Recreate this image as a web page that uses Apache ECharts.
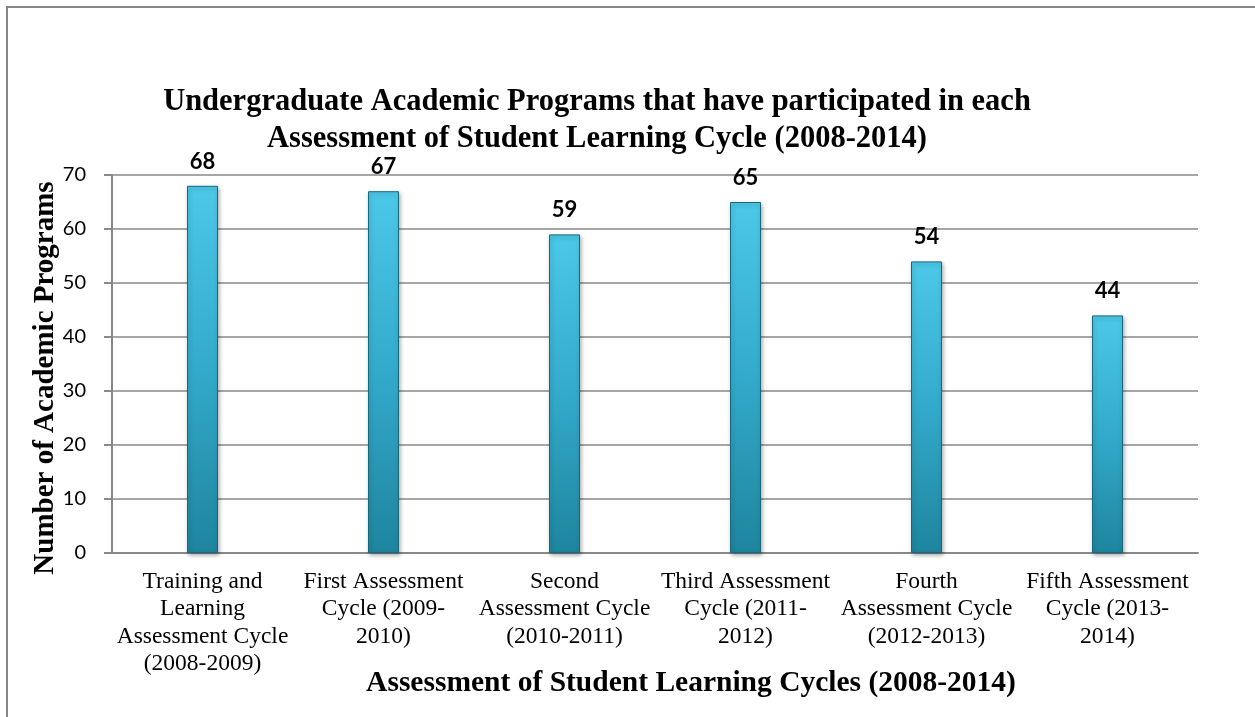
<!DOCTYPE html>
<html>
<head>
<meta charset="utf-8">
<script src="https://cdn.jsdelivr.net/npm/echarts@6/dist/echarts.min.js"></script>
<style>
  html, body { margin: 0; padding: 0; background: #fff; }
  #chart { width: 1255px; height: 717px; }
</style>
</head>
<body>
<div id="chart"></div>
<script>
// 周期名称（带换行，跟原图一致）
const cycles = [
  'Training and\nLearning\nAssessment Cycle\n(2008-2009)',
  'First Assessment\nCycle (2009-\n2010)',
  'Second\nAssessment Cycle\n(2010-2011)',
  'Third Assessment\nCycle (2011-\n2012)',
  'Fourth\nAssessment Cycle\n(2012-2013)',
  'Fifth Assessment\nCycle (2013-\n2014)'
]
// 参与项目数
const programs = [68, 67, 59, 65, 54, 44]

const serif = 'Liberation Serif'
const sans = 'Lato'

const chart = echarts.init(document.getElementById('chart'))

const option = {
  backgroundColor: '#fff',
  animation: false,
  title: {
    text: 'Undergraduate Academic Programs that have participated in each\nAssessment of Student Learning Cycle (2008-2014)',
    left: 592,
    top: 79,
    textAlign: 'center',
    textStyle: {
      fontFamily: serif,
      fontWeight: 'bold',
      fontSize: 30.5,
      lineHeight: 36.5,
      color: '#000'
    }
  },
  graphic: [
    {
      type: 'rect',
      shape: { x: 7, y: 7, width: 1260, height: 730 },
      style: { fill: 'none', stroke: '#878787', lineWidth: 2 }
    }
  ],
  grid: {
    left: 112,
    right: 57,
    top: 175,
    bottom: 164,
    containLabel: false,
    outerBoundsMode: 'none'
  },
  xAxis: {
    type: 'category',
    data: cycles,
    name: 'Assessment of Student Learning Cycles (2008-2014)',
    nameLocation: 'middle',
    nameGap: 115,
    nameMoveOverlap: false,
    nameTextStyle: {
      fontFamily: serif,
      fontWeight: 'bold',
      fontSize: 29.5,
      color: '#000',
      padding: [0, 0, 0, 72]
    },
    axisLine: { lineStyle: { color: '#888', width: 2 } },
    axisTick: { show: false },
    axisLabel: {
      interval: 0,
      margin: 15,
      fontFamily: serif,
      fontSize: 23.5,
      lineHeight: 27.5,
      color: '#000',
      align: 'center'
    }
  },
  yAxis: {
    type: 'value',
    min: 0,
    max: 70,
    interval: 10,
    name: 'Number of Academic Programs',
    nameLocation: 'middle',
    nameRotate: 90,
    nameGap: 52,
    nameMoveOverlap: false,
    nameTextStyle: {
      fontFamily: serif,
      fontWeight: 'bold',
      fontSize: 29,
      color: '#000',
      padding: [0, 28, 0, 0]
    },
    axisLine: { show: true, lineStyle: { color: '#888', width: 2 } },
    axisTick: { show: true, inside: false, length: 8, lineStyle: { color: '#888', width: 2 } },
    axisLabel: {
      margin: 26,
      fontFamily: sans,
      fontSize: 20,
      color: '#000'
    },
    splitLine: { lineStyle: { color: '#888', width: 1.5 } }
  },
  series: [
    {
      type: 'bar',
      data: programs,
      barWidth: 31,
      itemStyle: {
        color: new echarts.graphic.LinearGradient(0, 0, 0, 1, [
          { offset: 0, color: '#4cc8e8' },
          { offset: 0.5, color: '#33aacb' },
          { offset: 1, color: '#1e859e' }
        ]),
        borderColor: '#19697d',
        borderWidth: 1,
        shadowColor: 'rgba(0,0,0,0.3)',
        shadowBlur: 4,
        shadowOffsetX: 1,
        shadowOffsetY: 2
      },
      label: {
        show: true,
        position: 'top',
        distance: 13,
        fontFamily: sans,
        fontWeight: 'bold',
        fontSize: 22,
        color: '#000'
      }
    }
  ]
}

chart.setOption(option)
</script>
</body>
</html>
